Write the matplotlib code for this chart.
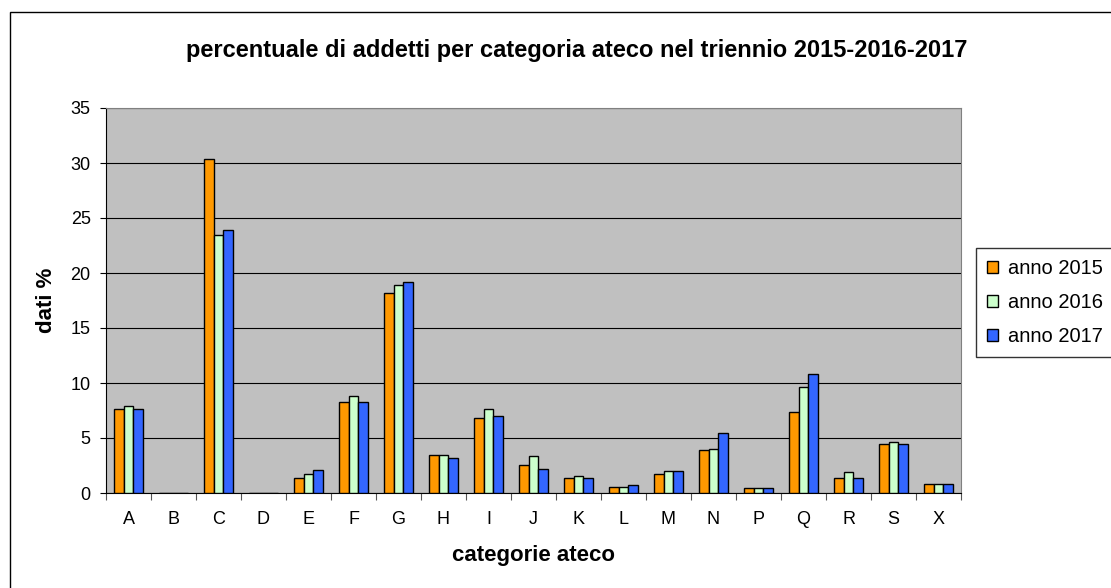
import matplotlib
matplotlib.use("Agg")
import matplotlib.pyplot as plt
import numpy as np
from matplotlib.patches import Rectangle

plt.rcParams['font.family'] = ['Liberation Sans', 'DejaVu Sans']

categories = ["A", "B", "C", "D", "E", "F", "G", "H", "I", "J", "K", "L", "M", "N", "P", "Q", "R", "S", "X"]
anno_2015 = [7.64, 0, 30.4, 0, 1.36, 8.3, 18.15, 3.45, 6.85, 2.55, 1.36, 0.58, 1.76, 3.88, 0.45, 7.39, 1.36, 4.5, 0.85]
anno_2016 = [7.94, 0, 23.5, 0, 1.76, 8.85, 18.9, 3.45, 7.64, 3.33, 1.52, 0.58, 2.03, 4.0, 0.45, 9.64, 1.9, 4.64, 0.85]
anno_2017 = [7.64, 0, 23.9, 0, 2.06, 8.3, 19.15, 3.18, 7.0, 2.18, 1.36, 0.73, 2.03, 5.45, 0.45, 10.82, 1.36, 4.5, 0.85]
series_labels = ["anno 2015", "anno 2016", "anno 2017"]
colors = ["#FF9900", "#CCFFCC", "#3366FF"]

fig = plt.figure(figsize=(11.11, 5.88), dpi=100)
W, H = 1111, 588
# outer chart border
fig.patches.append(Rectangle((10 / W, -0.05), 1.2, 1 - 12 / H + 0.05, transform=fig.transFigure,
                             fill=False, edgecolor="black", linewidth=1.0))

ax = fig.add_axes([106 / W, 1 - 493 / H, (961 - 106) / W, (493 - 108) / H])
ax.set_facecolor("#C0C0C0")

x = np.arange(len(categories))
bw = 0.22
for i, (vals, lab, c) in enumerate(zip([anno_2015, anno_2016, anno_2017], series_labels, colors)):
    ax.bar(x + (i - 1) * bw, vals, width=bw, color=c, edgecolor="black", linewidth=1.0, label=lab, zorder=3)

ax.set_xlim(-0.5, len(categories) - 0.5)
ax.set_ylim(0, 35)
ax.set_yticks(np.arange(0, 36, 5))
ax.yaxis.grid(True, color="black", linewidth=0.8, zorder=1)
ax.set_axisbelow(True)
ax.set_xticks(x)
ax.set_xticklabels(categories, fontsize=13)
ax.set_xticks(np.arange(-0.5, len(categories), 1), minor=True)
ax.tick_params(axis="x", which="major", length=0, pad=13)
ax.tick_params(axis="x", which="minor", length=5, direction="out", width=0.8, color="#555555")
ax.tick_params(axis="y", length=4.5, direction="out", labelsize=13, width=0.8, pad=6.5)
for s in ["top", "right"]:
    ax.spines[s].set_color("#808080")
for s in ["left", "bottom"]:
    ax.spines[s].set_color("black")

fig.text(46 / W, 1 - 300 / H, "dati %", rotation=90, ha="center", va="center",
         fontsize=16, fontweight="bold")
fig.text(533 / W, 1 - 555 / H, "categorie ateco", ha="center", va="center",
         fontsize=16, fontweight="bold")
fig.text(577 / W, 1 - 50 / H, "percentuale di addetti per categoria ateco nel triennio 2015-2016-2017",
         ha="center", va="center", fontsize=17, fontweight="bold")

leg = fig.legend(loc="upper left", bbox_to_anchor=(976 / W, 1 - 248 / H), fontsize=14.5,
                 frameon=True, fancybox=False, edgecolor="black", handlelength=0.55, handleheight=0.55,
                 handletextpad=0.5, borderpad=0.55, labelspacing=0.75, borderaxespad=0)
leg.get_frame().set_linewidth(1.0)

fig.savefig("out.png", dpi=100)
